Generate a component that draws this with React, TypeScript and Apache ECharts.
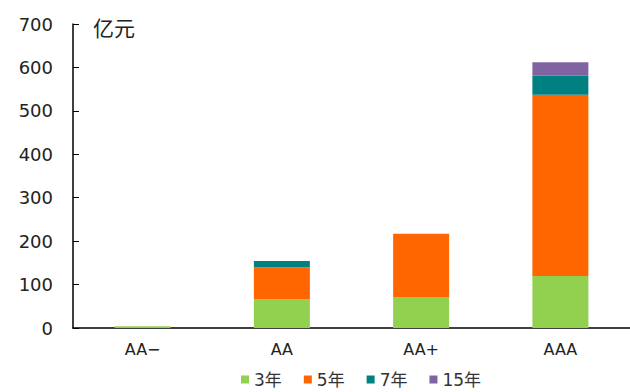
import React, { useEffect, useRef } from "react";
import * as echarts from "echarts";

// Credit rating buckets and amount issued per maturity (亿元)
const ratings = ["AA\u2212", "AA", "AA+", "AAA"];
const seriesNames = ["3年", "5年", "7年", "15年"];
const values3y = [4, 67, 70, 120];
const values5y = [0, 73, 147, 417];
const values7y = [0, 14, 0, 44];
const values15y = [0, 0, 0, 31];
const yTicks = [0, 100, 200, 300, 400, 500, 600, 700];
const colors = ["#92D050", "#FF6600", "#008080", "#8064A2"];

const labelFont = "'DejaVu Sans', 'Noto Sans CJK SC', sans-serif";

export default function App() {
  const ref = useRef<HTMLDivElement>(null);

  useEffect(() => {
    document.body.style.margin = "0";
    if (!ref.current) return;
    const chart = echarts.init(ref.current, undefined, { renderer: "svg" });
    const data = [values3y, values5y, values7y, values15y];
    chart.setOption({
      animation: false,
      backgroundColor: "#ffffff",
      grid: { left: 73, top: 24, width: 564, bottom: 64 },
      legend: {
        bottom: -1,
        left: 236,
        itemWidth: 8,
        itemHeight: 8,
        itemGap: 22,
        icon: "rect",
        textStyle: { fontFamily: labelFont, fontSize: 17, color: "#333" },
        data: seriesNames,
      },
      xAxis: {
        type: "category",
        data: ratings,
        axisLine: { lineStyle: { color: "#000", width: 1.5 } },
        axisTick: { inside: true, length: 4, lineStyle: { color: "#000" } },
        axisLabel: { margin: 13, fontFamily: labelFont, fontSize: 16, color: "#222" },
      },
      yAxis: {
        type: "value",
        min: yTicks[0],
        max: yTicks[yTicks.length - 1],
        interval: 100,
        splitLine: { show: false },
        axisLine: { show: true, lineStyle: { color: "#000", width: 1.5 } },
        axisTick: { show: true, inside: true, length: 6, lineStyle: { color: "#000" } },
        axisLabel: { margin: 20, fontFamily: labelFont, fontSize: 18, color: "#222" },
      },
      graphic: [
        {
          type: "text",
          left: 93,
          top: 16,
          style: {
            text: "亿元",
            font: "21px 'Noto Sans CJK SC', sans-serif",
            fill: "#222",
          },
        },
      ],
      series: seriesNames.map((name, i) => ({
        name,
        type: "bar",
        stack: "total",
        barWidth: 56,
        itemStyle: { color: colors[i] },
        data: data[i],
      })),
    });
    return () => chart.dispose();
  }, []);

  return <div ref={ref} style={{ width: 630, height: 392 }} />;
}
